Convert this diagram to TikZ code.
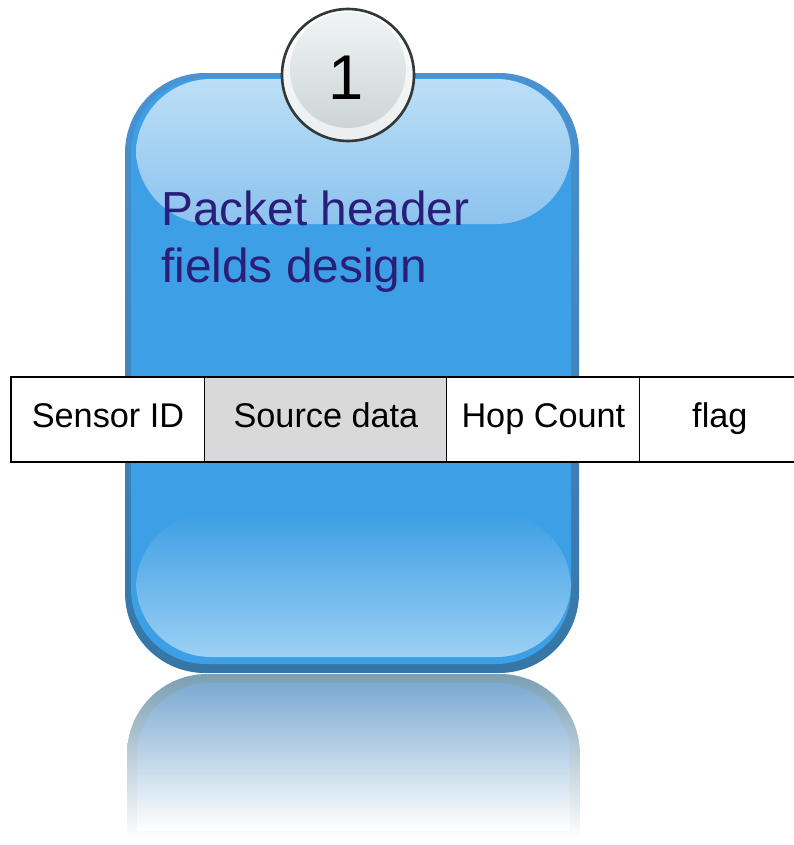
\documentclass[tikz,border=0pt]{standalone}
\usepackage{fontspec}
\setmainfont{Liberation Sans}
\usetikzlibrary{positioning}

\definecolor{cardblue}{HTML}{3D9FE5}
\definecolor{cardedge}{HTML}{4A92D2}
\definecolor{cardedgedark}{HTML}{3676A6}
\definecolor{glosstop}{HTML}{BCDFF7}
\definecolor{glossbot}{HTML}{8CC3EE}
\definecolor{glosslow}{HTML}{9DD0F4}
\definecolor{reflrim}{HTML}{7A9FB3}
\definecolor{reflblue}{HTML}{7CAAD2}
\definecolor{titleblue}{HTML}{2A1E78}
\definecolor{cellgray}{HTML}{D9D9D9}
\definecolor{badgeedge}{HTML}{333838}
\definecolor{badgetop}{HTML}{F1F4F4}
\definecolor{badgebot}{HTML}{CBD5D5}
\definecolor{badgerim}{HTML}{E9EEEE}

\tikzset{
  field/.style={draw=black, fill=white, line width=0.6pt, minimum height=1.7cm, inner sep=0pt, outer sep=0pt,
                text height=0.88em, text depth=0pt, font=\fontsize{19.5}{22}\selectfont},
  title/.style={text=titleblue, inner sep=0pt, font=\fontsize{27.2}{32}\selectfont},
  stepnum/.style={inner sep=0pt, font=\fontsize{36}{40}\selectfont}
}

\begin{document}
\begin{tikzpicture}[x=0.02cm,y=-0.02cm]
  \useasboundingbox (0,0) rectangle (794,845);

   % mirror image under the card
   \begin{scope}
     \clip[rounded corners=1.6cm] (127,674) rectangle (580,1000);
     \shade[top color=reflrim, bottom color=white] (127,674) rectangle (580,840);
   \end{scope}
   \begin{scope}
     \clip[rounded corners=1.45cm] (137,683) rectangle (570,1000);
     \shade[top color=reflblue, bottom color=white] (137,683) rectangle (570,830);
   \end{scope}

   % card body
    \shade[top color=cardedge, bottom color=cardedgedark, rounded corners=1.6cm] (125,73) rectangle (579,673);
    \fill[cardblue, rounded corners=1.5cm] (131,78) rectangle (571,664);
    \shade[top color=glosstop, bottom color=glossbot, rounded corners=1.5cm] (136,79) rectangle (571,224);
    \shade[top color=cardblue, bottom color=glosslow, rounded corners=1.5cm] (136,513) rectangle (571,657);

  \draw (161,225) node[title, anchor=base west] (titleA) {Packet header};
  \draw (161,282) node[title, anchor=base west] (titleB) {fields design};

   % header fields
  \draw (11,377) node[field, minimum width=3.88cm, anchor=north west] (sensor) {Sensor ID};
  \node[field, fill=cellgray, minimum width=4.84cm, right=0pt of sensor] (source) {Source data};
  \node[field, minimum width=3.86cm, right=0pt of source] (hops) {Hop Count};
  \node[field, minimum width=3.2cm, right=0pt of hops] (flag) {flag};

   % step badge
    \shade[top color=white, bottom color=badgerim] (348,75) circle (1.32cm);
    \shade[top color=badgetop, bottom color=badgebot] (348,70) circle (1.16cm);
    \draw[badgeedge, line width=1.5pt] (348,75) circle (1.32cm);
  \draw (346,78) node[stepnum] (step) {1};
\end{tikzpicture}
\end{document}
